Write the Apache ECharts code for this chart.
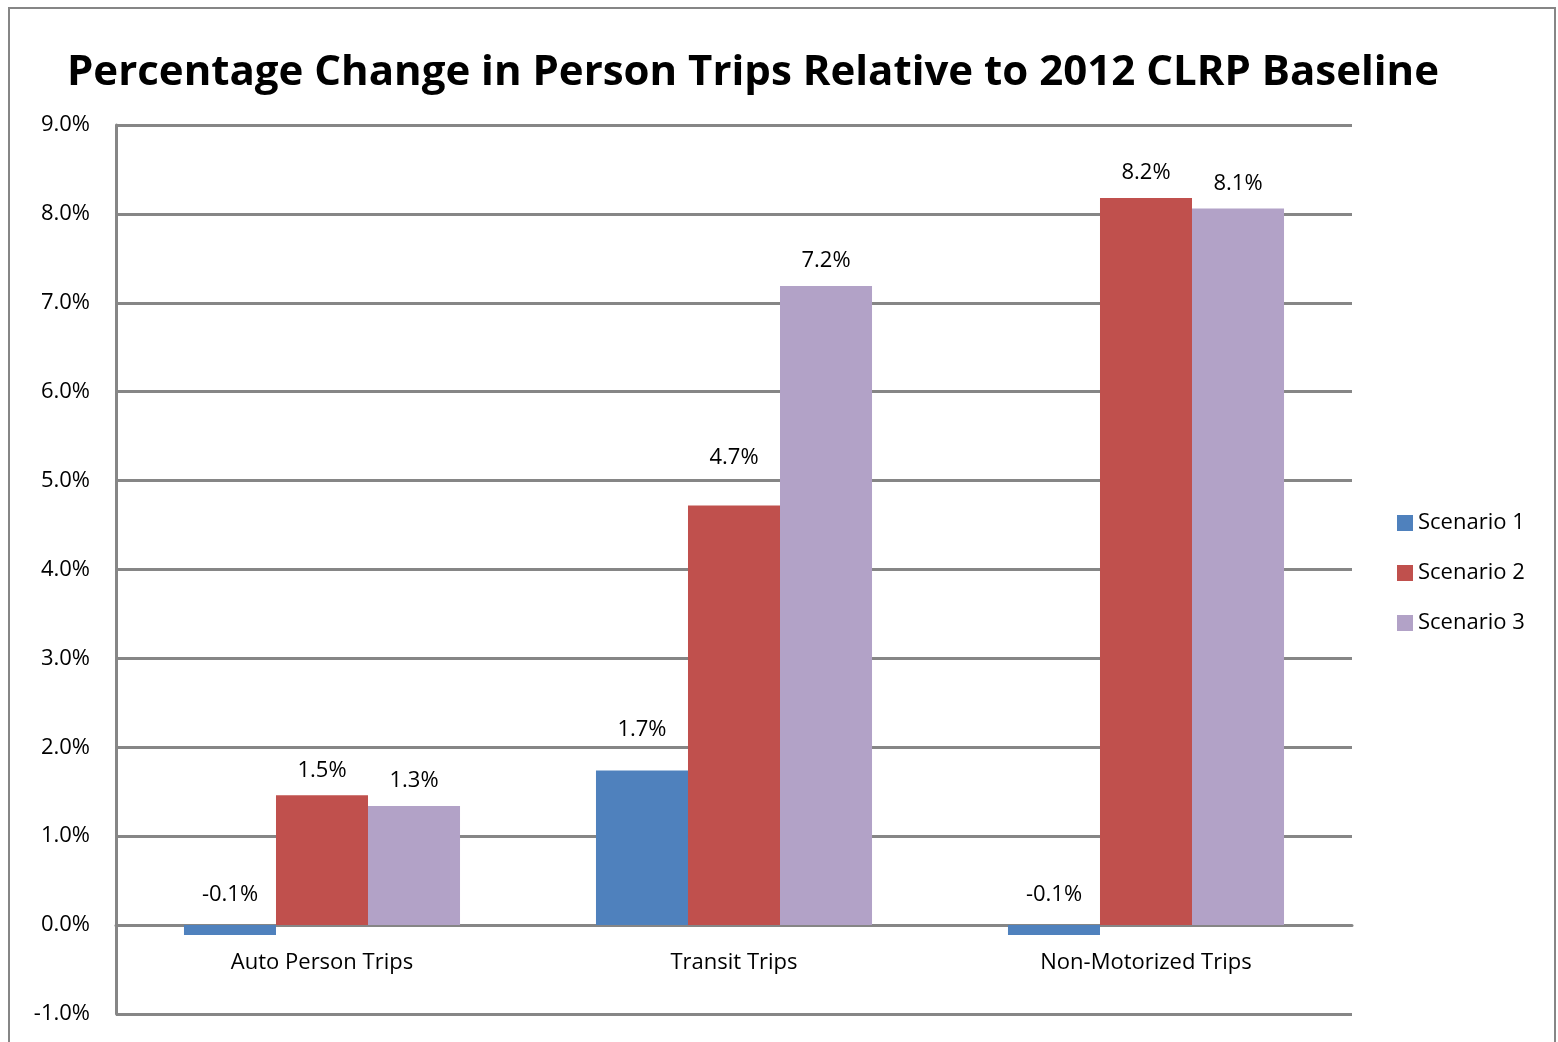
<!DOCTYPE html>
<html><head><meta charset="utf-8">
<script src="https://cdn.jsdelivr.net/npm/echarts@6/dist/echarts.min.js"></script>
<style>html,body{margin:0;padding:0;background:#fff}#c{width:1558px;height:1042px}</style>
</head><body><div id="c"></div>
<script>
const categories = ['Auto Person Trips', 'Transit Trips', 'Non-Motorized Trips'];
const seriesNames = ['Scenario 1', 'Scenario 2', 'Scenario 3'];
const scenario1 = [-0.11, 1.74, -0.11];
const scenario2 = [1.46, 4.72, 8.18];
const scenario3 = [1.34, 7.19, 8.06];
const colors = ['#4F81BD', '#C0504D', '#B2A2C7'];
const titleText = 'Percentage Change in Person Trips Relative to 2012 CLRP Baseline';
// extra label lift (px) for labels that were moved up in the original
const labelLift = [[5, 16, 5], [0, 23, 0], [0, 0, 0]];

const FONT = 'Open Sans';
const FS = 22;
const chart = echarts.init(document.getElementById('c'), null, {renderer: 'canvas'});
const values = [scenario1, scenario2, scenario3];
const series = values.map((arr, i) => ({
  name: seriesNames[i],
  type: 'bar',
  data: arr.map((v, j) => ({value: v, label: {distance: 14 + labelLift[i][j]}})),
  itemStyle: {color: colors[i]},
  barGap: '0%',
  barCategoryGap: '33%',
  label: {
    show: true,
    position: 'top',
    color: '#000',
    fontFamily: FONT,
    fontSize: FS,
    formatter: p => p.value.toFixed(1) + '%'
  }
}));
chart.setOption({
  animation: false,
  title: {
    text: titleText, left: 62, top: 47,
    textStyle: {fontFamily: FONT, fontWeight: 'bold', fontSize: 42, color: '#000'}
  },
  legend: {
    orient: 'vertical', left: 1392, top: 507,
    itemWidth: 16, itemHeight: 16, itemGap: 28, icon: 'rect',
    textStyle: {fontFamily: FONT, fontSize: FS, lineHeight: 22, color: '#000'}
  },
  grid: {left: 116, right: 206, top: 125, bottom: 28, containLabel: false, outerBoundsMode: 'none'},
  xAxis: {
    type: 'category', data: categories,
    offset: -89,
    axisLine: {onZero: false, lineStyle: {color: '#868686', width: 3}},
    axisTick: {show: false},
    axisLabel: {fontFamily: FONT, fontSize: FS, color: '#000', margin: 27}
  },
  yAxis: {
    type: 'value', min: -1, max: 9, interval: 1,
    axisLine: {show: true, lineStyle: {color: '#868686', width: 3}},
    axisTick: {show: false},
    splitLine: {lineStyle: {color: '#868686', width: 3}},
    axisLabel: {fontFamily: FONT, fontSize: FS, color: '#000', margin: 26, formatter: v => v.toFixed(1) + '%'}
  },
  graphic: [{
    type: 'rect', shape: {x: 9, y: 8, width: 1546, height: 1040},
    style: {fill: 'none', stroke: '#868686', lineWidth: 2}, silent: true
  }],
  series: series
});
</script></body></html>
